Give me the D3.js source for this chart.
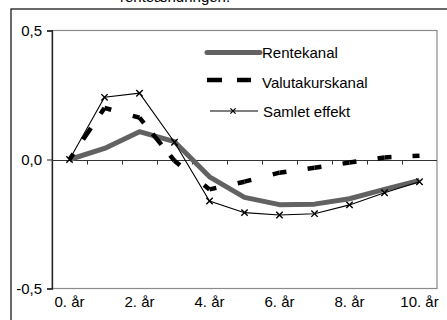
<!DOCTYPE html>
<html>
<head>
<meta charset="utf-8">
<script src="https://cdn.jsdelivr.net/npm/d3@7"></script>
<style>
  html, body { margin: 0; padding: 0; background: #fff; }
  svg { display: block; font-family: Arial, "Liberation Sans", sans-serif; }
</style>
</head>
<body>
<svg id="chart" width="447" height="320"></svg>
<script>
// Years after the rate change
const years = [0, 1, 2, 3, 4, 5, 6, 7, 8, 9, 10];
const yearLabels = ["0. år", "1. år", "2. år", "3. år", "4. år", "5. år", "6. år", "7. år", "8. år", "9. år", "10. år"];
const shownYears = [0, 2, 4, 6, 8, 10];

// Effects by channel (percentage points)
const rentekanal = [0, 0.043, 0.108, 0.069, -0.067, -0.147, -0.175, -0.173, -0.152, -0.116, -0.081];
const valutakurskanal = [0, 0.200, 0.162, -0.005, -0.116, -0.086, -0.051, -0.032, -0.012, 0.008, 0.015];
const samletEffekt = [0, 0.241, 0.257, 0.067, -0.161, -0.206, -0.215, -0.210, -0.176, -0.129, -0.086];

const yTicks = [-0.5, 0, 0.5];
const seriesNames = ["Rentekanal", "Valutakurskanal", "Samlet effekt"];

const svg = d3.select("#chart");

const plot = { left: 52, right: 437, top: 30.5, bottom: 288.5 };

const x = d3.scaleBand().domain(years).range([plot.left, plot.right]);
const cx = d => x(d) + x.bandwidth() / 2;
const y = d3.scaleLinear().domain([-0.5, 0.5]).range([plot.bottom, plot.top]);

// Outer frame
svg.append("rect")
  .attr("x", 11).attr("y", 9)
  .attr("width", 460).attr("height", 330)
  .attr("fill", "none").attr("stroke", "#1a1a1a").attr("stroke-width", 1.3);

// Caption running above the frame
svg.append("text")
  .attr("x", 120).attr("y", 1.5)
  .attr("font-size", 15)
  .attr("fill", "#000")
  .text("renteændringen.");

// Plot area border
svg.append("rect")
  .attr("x", plot.left).attr("y", plot.top)
  .attr("width", plot.right - plot.left).attr("height", plot.bottom - plot.top)
  .attr("fill", "none").attr("stroke", "#8a8a8a").attr("stroke-width", 1.2);

// Y axis
const yAxis = d3.axisLeft(y)
  .tickValues(yTicks)
  .tickSize(5)
  .tickPadding(5)
  .tickFormat(d => d3.format(".1f")(d).replace("−", "-").replace(".", ","));

const gy = svg.append("g")
  .attr("transform", `translate(${plot.left},0)`)
  .call(yAxis);
gy.select(".domain").attr("stroke", "#222").attr("stroke-width", 1.3);
gy.selectAll(".tick line").attr("stroke", "#222");
gy.selectAll("text").attr("font-size", 15).attr("font-family", "Arial, 'Liberation Sans', sans-serif").attr("fill", "#000");

// Category axis along zero
const y0 = Math.round(y(0)) + 0.5;
svg.append("line")
  .attr("x1", plot.left).attr("x2", plot.right)
  .attr("y1", y0).attr("y2", y0)
  .attr("stroke", "#333").attr("stroke-width", 1);

svg.append("g").selectAll("line")
  .data(years.slice(1))
  .join("line")
  .attr("x1", d => Math.round(x(d)) + 0.5)
  .attr("x2", d => Math.round(x(d)) + 0.5)
  .attr("y1", y0).attr("y2", y0 + 4)
  .attr("stroke", "#333");

svg.append("g").selectAll("text")
  .data(shownYears)
  .join("text")
  .attr("x", d => cx(d))
  .attr("y", 307)
  .attr("text-anchor", "middle")
  .attr("font-size", 15)
  .attr("fill", "#000")
  .text(d => yearLabels[d]);

// Rentekanal: thick grey line
const line = d3.line().x((d, i) => cx(years[i])).y(d => y(d));

svg.append("path")
  .datum(rentekanal)
  .attr("d", line)
  .attr("fill", "none")
  .attr("stroke", "#626262")
  .attr("stroke-width", 5)
  .attr("stroke-linejoin", "round");

// Valutakurskanal: heavy dashes centred on each year, drawn segment by segment
const dashLen = 14;
const valutaPts = valutakurskanal.map((v, i) => [cx(years[i]), y(v)]);
const segs = d3.pairs(valutaPts);
svg.append("g").selectAll("path")
  .data(segs)
  .join("path")
  .attr("d", s => d3.line()(s))
  .attr("fill", "none")
  .attr("stroke", "#000")
  .attr("stroke-width", 4.5)
  .attr("stroke-dasharray", s => {
    const L = Math.hypot(s[1][0] - s[0][0], s[1][1] - s[0][1]);
    const n = Math.max(1, Math.round(L / 35));
    const p = L / n;
    return `${dashLen},${p - dashLen}`;
  })
  .attr("stroke-dashoffset", dashLen / 2);

// Samlet effekt: thin line with x markers
svg.append("path")
  .datum(samletEffekt)
  .attr("d", line)
  .attr("fill", "none")
  .attr("stroke", "#000")
  .attr("stroke-width", 1.1);

const cross = (px, py, r) => `M${px - r},${py - r}L${px + r},${py + r}M${px - r},${py + r}L${px + r},${py - r}`;
svg.append("g").selectAll("path")
  .data(samletEffekt)
  .join("path")
  .attr("d", (d, i) => cross(cx(years[i]), y(d), 3.2))
  .attr("stroke", "#000")
  .attr("stroke-width", 1.4)
  .attr("fill", "none");

// Legend
const legend = svg.append("g");
legend.append("line")
  .attr("x1", 207).attr("x2", 260).attr("y1", 52.5).attr("y2", 52.5)
  .attr("stroke", "#626262").attr("stroke-width", 5).attr("stroke-linecap", "round");
legend.append("line")
  .attr("x1", 207).attr("x2", 251).attr("y1", 80).attr("y2", 80)
  .attr("stroke", "#000").attr("stroke-width", 4.5)
  .attr("stroke-dasharray", "15,15");
legend.append("line")
  .attr("x1", 210).attr("x2", 258).attr("y1", 111).attr("y2", 111)
  .attr("stroke", "#000").attr("stroke-width", 1.1);
legend.append("path")
  .attr("d", cross(233, 111, 2.6))
  .attr("stroke", "#000").attr("stroke-width", 1.3);

legend.selectAll("text")
  .data(seriesNames)
  .join("text")
  .attr("x", (d, i) => i === 2 ? 263 : 262)
  .attr("y", (d, i) => [58.3, 87.7, 117.3][i])
  .attr("font-size", 15)
  .attr("fill", "#000")
  .text(d => d);
</script>
</body>
</html>
